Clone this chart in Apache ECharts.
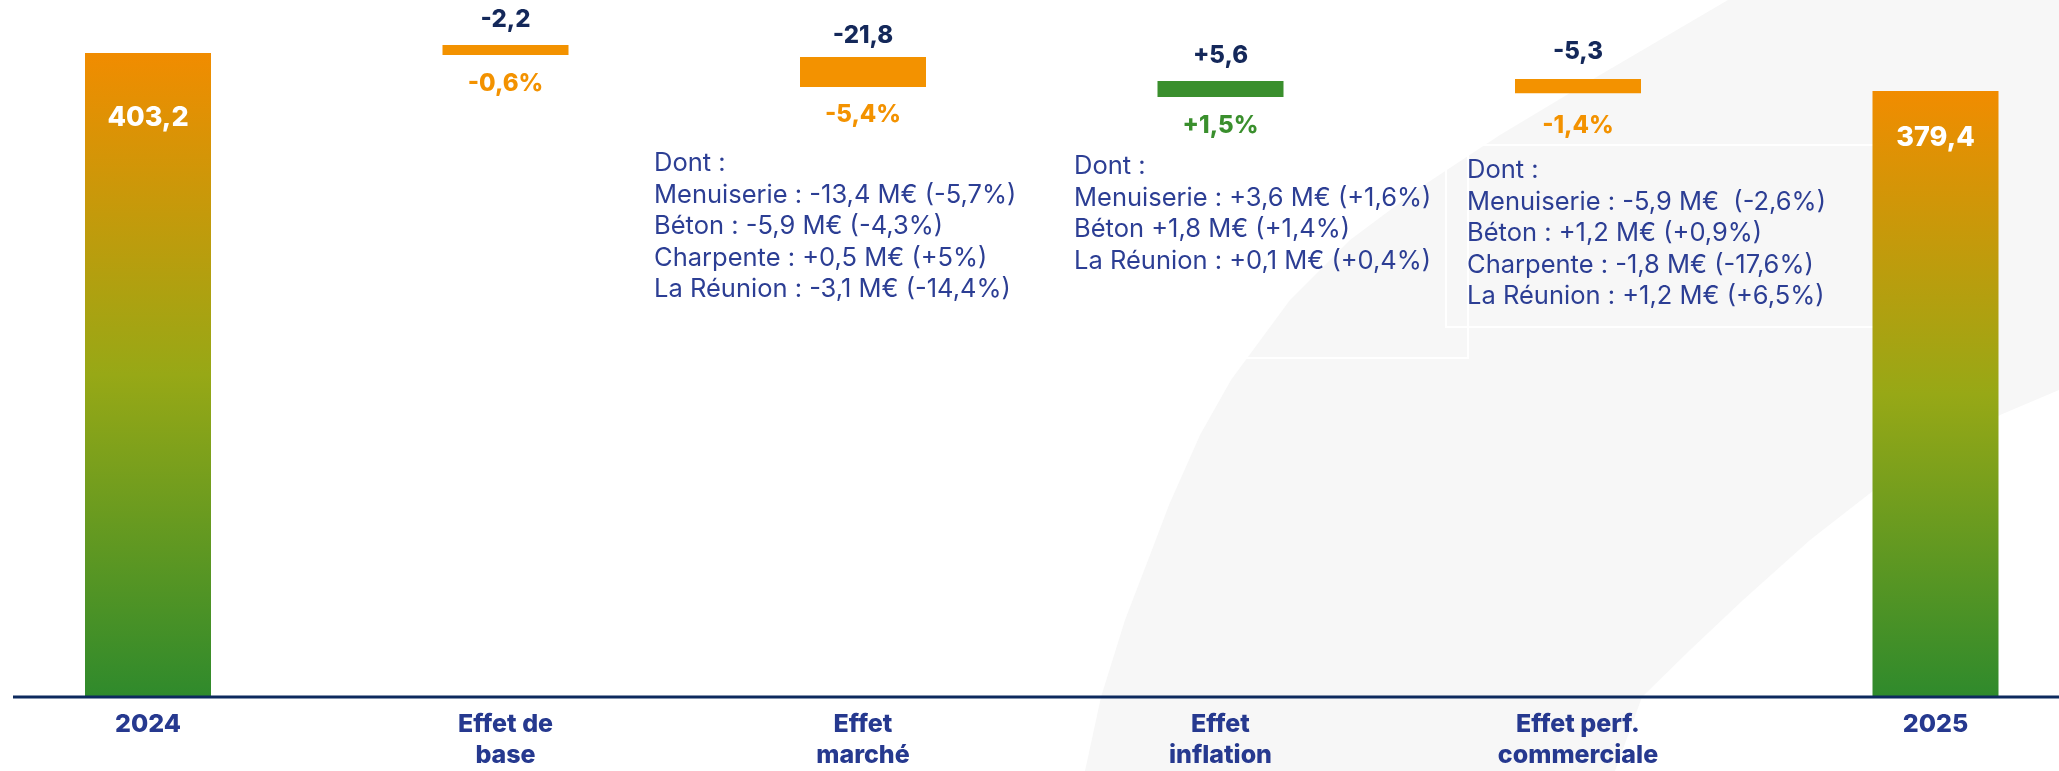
<!DOCTYPE html>
<html>
<head>
<meta charset="utf-8">
<script src="https://cdn.jsdelivr.net/npm/echarts@6/dist/echarts.min.js"></script>
<style>
  html, body { margin: 0; padding: 0; background: #ffffff; }
  #chart { width: 2059px; height: 771px; }
</style>
</head>
<body>
<div id="chart"></div>
<script>
// categories and values
const categories = ['2024', 'Effet de\nbase', 'Effet\nmarché', 'Effet\ninflation', 'Effet perf.\ncommerciale', '2025'];
const totals = [403.2, null, null, null, null, 379.4];
const effects = [null, -2.2, -21.8, 5.6, -5.3, null];
const effectPct = [null, -0.6, -5.4, 1.5, -1.4, null];
// floating bars are not to scale in the picture: extents read off it
const barLow = [null, 402.0, 381.9, 375.7, 378.0, null];
const barHigh = [null, 408.2, 400.7, 385.7, 386.9, null];

const notes = [
  ['Dont :', 'Menuiserie : -13,4 M€ (-5,7%)', 'Béton : -5,9 M€ (-4,3%)', 'Charpente : +0,5 M€ (+5%)', 'La Réunion : -3,1 M€ (-14,4%)'],
  ['Dont :', 'Menuiserie : +3,6 M€ (+1,6%)', 'Béton +1,8 M€ (+1,4%)', 'La Réunion : +0,1 M€ (+0,4%)'],
  ['Dont :', 'Menuiserie : -5,9 M€  (-2,6%)', 'Béton : +1,2 M€ (+0,9%)', 'Charpente : -1,8 M€ (-17,6%)', 'La Réunion : +1,2 M€ (+6,5%)']
];

const ORANGE = '#f39200';
const GREEN = '#3a8f2d';
const NAVY = '#14285a';
const BLUE = '#26398f';
const FONT = 'Inter, "Open Sans", sans-serif';

// label gaps above / below each floating bar
const topGap = [0, 12, 8, 12, 14, 0];
const bottomGap = [0, 16, 15, 16, 20, 0];

function fmt(v) {
  return (v > 0 ? '+' : '') + v.toFixed(1).replace('.', ',');
}

const chart = echarts.init(document.getElementById('chart'));

const padData = barLow.map((v, i) => (v == null ? '-' : {
  value: v,
  label: { color: effectPct[i] > 0 ? GREEN : ORANGE, distance: bottomGap[i] }
}));
const deltaData = barLow.map((v, i) => {
  if (v == null) return '-';
  return {
    value: +(barHigh[i] - v).toFixed(1),
    itemStyle: { color: effects[i] > 0 ? GREEN : ORANGE },
    label: { distance: topGap[i] }
  };
});
const totalData = totals.map((v, i) => {
  if (v == null) return '-';
  return { value: v, label: { distance: i === 0 ? 51 : 33 } };
});

const swoosh = [
  [1085, 771], [1101, 697], [1125, 620], [1150, 555], [1169, 505], [1200, 435], [1231, 380],
  [1290, 300], [1350, 240], [1421, 187], [1500, 135], [1600, 75], [1728, 0],
  [2059, 0], [2059, 390],
  [2000, 415], [1940, 450], [1878, 487], [1810, 540], [1743, 600], [1690, 650], [1642, 697], [1615, 771]
];

const noteAnchors = [[654, 148], [1074, 151], [1467, 155]];

chart.setOption({
  backgroundColor: '#ffffff',
  animation: false,
  grid: { left: 148, right: 123.5, top: 26.2, bottom: 74 },
  xAxis: {
    type: 'category',
    data: categories,
    boundaryGap: false,
    axisLine: { show: false },
    axisTick: { show: false },
    axisLabel: {
      interval: 0,
      margin: 12,
      color: BLUE,
      fontFamily: FONT,
      fontWeight: 800,
      fontSize: 25,
      lineHeight: 31
    }
  },
  yAxis: { type: 'value', min: 0, max: 420, show: false },
  graphic: [
    { type: 'polygon', z: -10, silent: true, shape: { points: swoosh }, style: { fill: '#f7f7f7' } },
    { type: 'rect', z: -5, silent: true, shape: { x: 1060, y: 143, width: 408, height: 215 }, style: { fill: 'none', stroke: '#ffffff', lineWidth: 2 } },
    { type: 'rect', z: -5, silent: true, shape: { x: 1446, y: 145, width: 429, height: 182 }, style: { fill: 'none', stroke: '#ffffff', lineWidth: 2 } },
    { type: 'line', z: 50, silent: true, shape: { x1: 13, y1: 697, x2: 2059, y2: 697 }, style: { stroke: '#0d2a5e', lineWidth: 3 } }
  ].concat(notes.map((lines, i) => ({
    type: 'text',
    z: 100,
    silent: true,
    left: noteAnchors[i][0],
    top: noteAnchors[i][1],
    style: {
      text: lines.join('\n'),
      fill: '#2c3e94',
      font: '400 25.5px ' + FONT,
      lineHeight: 31.5
    }
  }))),
  series: [
    {
      name: 'pad',
      type: 'bar',
      stack: 'wf',
      barWidth: 126,
      clip: false,
      itemStyle: { color: 'transparent' },
      label: {
        show: true,
        position: 'insideTop',
        distance: 16,
        fontFamily: FONT,
        fontWeight: 800,
        fontSize: 24,
        lineHeight: 26,
        formatter: p => (effectPct[p.dataIndex] == null ? '' : fmt(effectPct[p.dataIndex]) + '%')
      },
      data: padData
    },
    {
      name: 'effet',
      type: 'bar',
      stack: 'wf',
      barWidth: 126,
      clip: false,
      label: {
        show: true,
        position: 'top',
        distance: 11,
        color: NAVY,
        fontFamily: FONT,
        fontWeight: 800,
        fontSize: 24,
        lineHeight: 26,
        formatter: p => (effects[p.dataIndex] == null ? '' : fmt(effects[p.dataIndex]))
      },
      data: deltaData
    },
    {
      name: 'total',
      type: 'bar',
      stack: 'wf',
      barWidth: 126,
      clip: false,
      itemStyle: {
        color: new echarts.graphic.LinearGradient(0, 0, 0, 1, [
          { offset: 0, color: '#f18c00' },
          { offset: 0.5, color: '#97a816' },
          { offset: 1, color: '#2f8a2c' }
        ])
      },
      label: {
        show: true,
        position: 'insideTop',
        color: '#ffffff',
        fontFamily: FONT,
        fontWeight: 800,
        fontSize: 27,
        lineHeight: 28,
        formatter: p => (totals[p.dataIndex] == null ? '' : totals[p.dataIndex].toFixed(1).replace('.', ','))
      },
      data: totalData
    }
  ]
});
</script>
</body>
</html>
